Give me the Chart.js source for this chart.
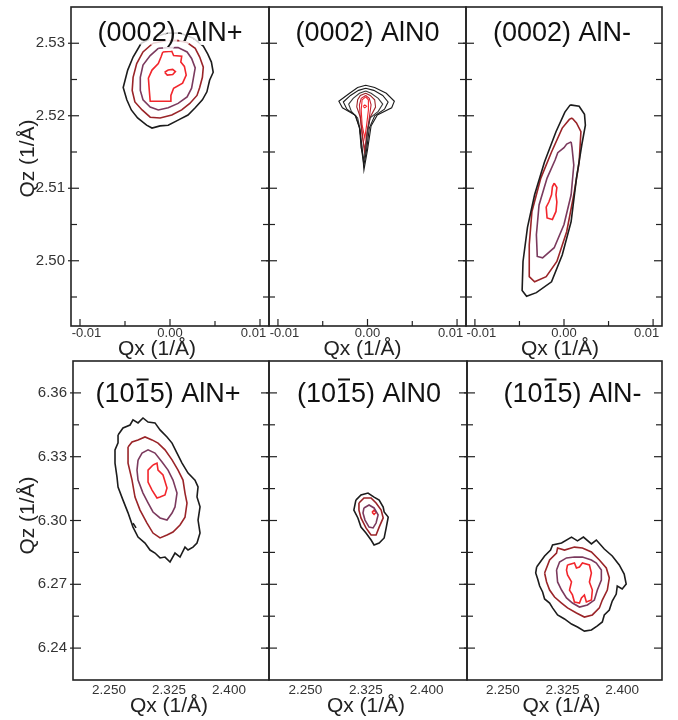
<!DOCTYPE html>
<html>
<head>
<meta charset="utf-8">
<script src="https://cdn.jsdelivr.net/npm/chart.js@4.4.0/dist/chart.umd.min.js"></script>
<style>
html, body { margin: 0; padding: 0; background: #fff; width: 678px; height: 720px; overflow: hidden; }
.panel { position: absolute; }
</style>
</head>
<body>
<script>
// axis ticks
const topXMajor = [-0.01, 0, 0.01]
const topXMinor = [-0.005, 0.005]
const topYMajor = [2.50, 2.51, 2.52, 2.53]
const topYMinor = [2.495, 2.505, 2.515, 2.525]
const botXMajor = [2.250, 2.325, 2.400]
const botYMajor = [6.24, 6.27, 6.30, 6.33, 6.36]
const botYMinor = [6.255, 6.285, 6.315, 6.345]

const titles = ['(0002) AlN+', '(0002) AlN0', '(0002) AlN-', '(1015) AlN+', '(1015) AlN0', '(1015) AlN-']
const xTitle = 'Qx (1/Å)'
const yTitle = 'Qz (1/Å)'

// contour lines, [Qx, Qz] in 1/Å
// (0002) AlN+
const p1Black = [[-0.0032,2.5300],[-0.0041,2.5281],[-0.0047,2.5263],[-0.0052,2.5239],[-0.0048,2.5222],[-0.0043,2.5208],[-0.0036,2.5197],[-0.0026,2.5187],[-0.0020,2.5183],[-0.0011,2.5186],[-0.0002,2.5187],[0.0009,2.5194],[0.0020,2.5201],[0.0028,2.5211],[0.0036,2.5222],[0.0041,2.5233],[0.0044,2.5249],[0.0048,2.5260],[0.0046,2.5274],[0.0042,2.5285],[0.0037,2.5296],[0.0026,2.5307],[0.0011,2.5314],[-0.0003,2.5314],[-0.0019,2.5308]]
const p1DarkRed = [[-0.0019,2.5300],[-0.0030,2.5288],[-0.0037,2.5272],[-0.0041,2.5253],[-0.0042,2.5235],[-0.0039,2.5219],[-0.0031,2.5208],[-0.0022,2.5198],[-0.0011,2.5197],[0.0002,2.5201],[0.0013,2.5208],[0.0022,2.5217],[0.0030,2.5228],[0.0033,2.5239],[0.0036,2.5253],[0.0037,2.5267],[0.0033,2.5281],[0.0028,2.5293],[0.0019,2.5301],[0.0008,2.5304],[-0.0006,2.5303]]
const p1Purple = [[-0.0013,2.5293],[-0.0022,2.5283],[-0.0030,2.5270],[-0.0033,2.5253],[-0.0033,2.5235],[-0.0030,2.5222],[-0.0022,2.5212],[-0.0013,2.5208],[-0.0002,2.5211],[0.0009,2.5217],[0.0019,2.5226],[0.0024,2.5238],[0.0026,2.5252],[0.0028,2.5266],[0.0024,2.5279],[0.0019,2.5288],[0.0009,2.5294],[-0.0002,2.5294]]
const p1Red = [[-0.0008,2.5288],[0.0002,2.5289],[0.0004,2.5283],[0.0013,2.5282],[0.0012,2.5274],[0.0016,2.5268],[0.0018,2.5256],[0.0014,2.5245],[0.0004,2.5238],[0.0001,2.5228],[0.0001,2.5220],[-0.0010,2.5220],[-0.0022,2.5220],[-0.0023,2.5235],[-0.0024,2.5252],[-0.0020,2.5263],[-0.0013,2.5272],[-0.0010,2.5281]]
const p1Peak = [[-0.0006,2.5260],[-0.0002,2.5263],[0.0003,2.5264],[0.0006,2.5261],[0.0003,2.5257],[-0.0003,2.5256]]

// (0002) AlN0
const p2A = [[-0.0002,2.5242],[0.0008,2.5239],[0.0021,2.5231],[0.0030,2.5220],[0.0027,2.5211],[0.0011,2.5201],[0.0004,2.5186],[0.0000,2.5153],[-0.0004,2.5125],[-0.0006,2.5157],[-0.0009,2.5184],[-0.0014,2.5201],[-0.0028,2.5211],[-0.0032,2.5220],[-0.0020,2.5231],[-0.0011,2.5239]]
const p2B = [[-0.0002,2.5238],[0.0007,2.5235],[0.0017,2.5228],[0.0023,2.5219],[0.0019,2.5209],[0.0008,2.5200],[0.0002,2.5183],[-0.0001,2.5153],[-0.0004,2.5132],[-0.0007,2.5156],[-0.0009,2.5183],[-0.0013,2.5200],[-0.0023,2.5209],[-0.0027,2.5219],[-0.0019,2.5228],[-0.0010,2.5235]]
const p2C = [[-0.0002,2.5234],[0.0004,2.5231],[0.0012,2.5224],[0.0017,2.5216],[0.0012,2.5206],[0.0003,2.5197],[0.0000,2.5180],[-0.0002,2.5153],[-0.0004,2.5139],[-0.0007,2.5156],[-0.0008,2.5180],[-0.0011,2.5197],[-0.0018,2.5206],[-0.0021,2.5216],[-0.0016,2.5224],[-0.0009,2.5231]]
const p2D = [[-0.0002,2.5231],[0.0003,2.5228],[0.0008,2.5222],[0.0009,2.5212],[0.0003,2.5198],[0.0000,2.5178],[-0.0003,2.5146],[-0.0006,2.5178],[-0.0008,2.5198],[-0.0012,2.5212],[-0.0011,2.5222],[-0.0008,2.5228]]
const p2E = [[-0.0002,2.5228],[0.0002,2.5224],[0.0004,2.5215],[0.0002,2.5197],[-0.0001,2.5173],[-0.0003,2.5153],[-0.0006,2.5173],[-0.0008,2.5197],[-0.0009,2.5215],[-0.0007,2.5224]]
const p2F = [[-0.0002,2.5226],[0.0001,2.5222],[0.0001,2.5208],[-0.0001,2.5187],[-0.0003,2.5169],[-0.0006,2.5187],[-0.0007,2.5208],[-0.0006,2.5222]]
const p2Peak = [[-0.0005,2.5213],[-0.0003,2.5215],[-0.0001,2.5213],[-0.0003,2.5211]]

// (0002) AlN-
const p3Black = [[0.0007,2.5215],[0.0017,2.5213],[0.0023,2.5202],[0.0024,2.5187],[0.0020,2.5160],[0.0014,2.5114],[0.0008,2.5054],[-0.0002,2.5008],[-0.0014,2.4971],[-0.0031,2.4956],[-0.0042,2.4951],[-0.0047,2.4959],[-0.0046,2.4999],[-0.0041,2.5046],[-0.0033,2.5091],[-0.0022,2.5136],[-0.0009,2.5178],[0.0001,2.5205]]
const p3DarkRed = [[0.0009,2.5197],[0.0014,2.5190],[0.0019,2.5178],[0.0017,2.5136],[0.0011,2.5091],[0.0003,2.5040],[-0.0008,2.4999],[-0.0020,2.4978],[-0.0033,2.4971],[-0.0039,2.4978],[-0.0039,2.5022],[-0.0036,2.5068],[-0.0026,2.5114],[-0.0014,2.5150],[-0.0002,2.5183],[0.0006,2.5195]]
const p3Purple = [[0.0008,2.5164],[0.0009,2.5156],[0.0011,2.5132],[0.0008,2.5091],[0.0000,2.5050],[-0.0011,2.5018],[-0.0024,2.5004],[-0.0030,2.5006],[-0.0031,2.5036],[-0.0028,2.5077],[-0.0019,2.5114],[-0.0010,2.5139],[-0.0007,2.5149],[0.0000,2.5156],[0.0003,2.5161]]
const p3Red = [[-0.0011,2.5107],[-0.0008,2.5101],[-0.0009,2.5091],[-0.0008,2.5081],[-0.0009,2.5068],[-0.0013,2.5057],[-0.0019,2.5059],[-0.0020,2.5074],[-0.0017,2.5081],[-0.0014,2.5091],[-0.0013,2.5102]]

// (10-15) AlN+
const p4Black = [[2.2613,6.3402],[2.2675,6.3435],[2.2763,6.3449],[2.2800,6.3473],[2.2863,6.3459],[2.2925,6.3482],[2.2988,6.3463],[2.3075,6.3459],[2.3138,6.3426],[2.3225,6.3393],[2.3288,6.3364],[2.3350,6.3317],[2.3413,6.3270],[2.3488,6.3223],[2.3575,6.3190],[2.3613,6.3158],[2.3600,6.3111],[2.3638,6.3064],[2.3613,6.3002],[2.3638,6.2941],[2.3600,6.2894],[2.3550,6.2875],[2.3488,6.2861],[2.3450,6.2875],[2.3388,6.2828],[2.3325,6.2847],[2.3263,6.2805],[2.3200,6.2828],[2.3138,6.2824],[2.3075,6.2847],[2.3013,6.2861],[2.2950,6.2894],[2.2863,6.2922],[2.2800,6.2969],[2.2738,6.3036],[2.2675,6.3096],[2.2613,6.3157],[2.2600,6.3204],[2.2575,6.3270],[2.2575,6.3332],[2.2613,6.3365]]
const p4Stray = [[2.2800,6.2988],[2.2838,6.2965]]
const p4DarkRed = [[2.2738,6.3346],[2.2788,6.3369],[2.2863,6.3379],[2.2950,6.3393],[2.3038,6.3379],[2.3113,6.3364],[2.3200,6.3332],[2.3288,6.3285],[2.3363,6.3237],[2.3425,6.3190],[2.3450,6.3129],[2.3475,6.3082],[2.3450,6.3016],[2.3388,6.2979],[2.3300,6.2946],[2.3225,6.2932],[2.3138,6.2918],[2.3050,6.2941],[2.2975,6.2988],[2.2888,6.3049],[2.2825,6.3110],[2.2788,6.3190],[2.2738,6.3270],[2.2738,6.3317]]
const p4Purple = [[2.2863,6.3284],[2.2913,6.3317],[2.2988,6.3332],[2.3075,6.3317],[2.3163,6.3275],[2.3238,6.3237],[2.3300,6.3190],[2.3350,6.3129],[2.3325,6.3064],[2.3288,6.3035],[2.3225,6.3002],[2.3138,6.3012],[2.3050,6.3040],[2.2988,6.3083],[2.2925,6.3129],[2.2863,6.3190],[2.2850,6.3237]]
const p4Red = [[2.3050,6.3261],[2.3100,6.3270],[2.3113,6.3237],[2.3175,6.3214],[2.3225,6.3153],[2.3200,6.3120],[2.3138,6.3111],[2.3100,6.3106],[2.3038,6.3143],[2.2988,6.3181],[2.2988,6.3237]]

// (10-15) AlN0
const p5Black = [[2.3125,6.3096],[2.3188,6.3120],[2.3275,6.3129],[2.3350,6.3110],[2.3413,6.3096],[2.3463,6.3063],[2.3475,6.3040],[2.3525,6.3016],[2.3500,6.2965],[2.3475,6.2918],[2.3413,6.2894],[2.3350,6.2885],[2.3313,6.2908],[2.3250,6.2941],[2.3188,6.2969],[2.3150,6.3012],[2.3100,6.3049]]
const p5DarkRed = [[2.3163,6.3082],[2.3225,6.3106],[2.3313,6.3106],[2.3375,6.3082],[2.3438,6.3049],[2.3463,6.3012],[2.3413,6.2969],[2.3375,6.2932],[2.3313,6.2932],[2.3250,6.2965],[2.3188,6.3012],[2.3163,6.3049]]
const p5Purple = [[2.3225,6.3059],[2.3288,6.3073],[2.3350,6.3059],[2.3400,6.3026],[2.3375,6.2988],[2.3338,6.2965],[2.3288,6.2969],[2.3238,6.3002],[2.3213,6.3035]]
const p5Red = [[2.3325,6.3039],[2.3350,6.3049],[2.3375,6.3039],[2.3350,6.3029]]

// (10-15) AlN-
const p6Black = [[2.2925,6.2781],[2.3025,6.2833],[2.3100,6.2861],[2.3125,6.2885],[2.3238,6.2894],[2.3363,6.2922],[2.3438,6.2904],[2.3513,6.2922],[2.3613,6.2890],[2.3675,6.2908],[2.3775,6.2866],[2.3875,6.2833],[2.3963,6.2791],[2.4025,6.2748],[2.4050,6.2701],[2.4000,6.2678],[2.3938,6.2692],[2.3925,6.2654],[2.3875,6.2621],[2.3838,6.2579],[2.3775,6.2556],[2.3750,6.2523],[2.3688,6.2504],[2.3613,6.2485],[2.3525,6.2480],[2.3438,6.2499],[2.3363,6.2513],[2.3275,6.2537],[2.3188,6.2556],[2.3125,6.2589],[2.3088,6.2612],[2.3025,6.2631],[2.3000,6.2664],[2.2963,6.2692],[2.2938,6.2725],[2.2913,6.2753]]
const p6DarkRed = [[2.3025,6.2753],[2.3088,6.2814],[2.3175,6.2847],[2.3188,6.2871],[2.3275,6.2861],[2.3400,6.2875],[2.3500,6.2871],[2.3613,6.2852],[2.3713,6.2814],[2.3800,6.2777],[2.3838,6.2730],[2.3813,6.2673],[2.3750,6.2626],[2.3713,6.2589],[2.3625,6.2556],[2.3525,6.2546],[2.3425,6.2565],[2.3313,6.2589],[2.3238,6.2612],[2.3150,6.2640],[2.3088,6.2673],[2.3050,6.2711]]
const p6Purple = [[2.3175,6.2767],[2.3213,6.2805],[2.3300,6.2824],[2.3400,6.2828],[2.3500,6.2828],[2.3613,6.2814],[2.3675,6.2800],[2.3738,6.2767],[2.3738,6.2720],[2.3688,6.2673],[2.3650,6.2626],[2.3563,6.2603],[2.3463,6.2593],[2.3375,6.2612],[2.3300,6.2636],[2.3238,6.2673],[2.3188,6.2711]]
const p6Red = [[2.3313,6.2791],[2.3400,6.2800],[2.3425,6.2777],[2.3463,6.2781],[2.3500,6.2800],[2.3588,6.2791],[2.3613,6.2753],[2.3588,6.2711],[2.3625,6.2673],[2.3613,6.2626],[2.3550,6.2617],[2.3525,6.2650],[2.3488,6.2636],[2.3463,6.2612],[2.3400,6.2617],[2.3375,6.2650],[2.3338,6.2673],[2.3363,6.2711],[2.3313,6.2744],[2.3300,6.2767]]

const BLACK = '#1c1c1c', GREY = '#3a3a3a', DARKRED = '#9a2428', PURPLE = '#7b3a5e', RED = '#f2262c', MIDRED = '#c42334'

const panelLines = [
    [[p1Black, BLACK], [p1DarkRed, DARKRED], [p1Purple, PURPLE], [p1Red, RED], [p1Peak, RED]],
    [[p2A, BLACK], [p2B, BLACK], [p2C, GREY], [p2D, DARKRED], [p2E, MIDRED], [p2F, RED], [p2Peak, RED]],
    [[p3Black, BLACK], [p3DarkRed, DARKRED], [p3Purple, PURPLE], [p3Red, RED]],
    [[p4Black, BLACK], [p4Stray, BLACK, true], [p4DarkRed, DARKRED], [p4Purple, PURPLE], [p4Red, RED]],
    [[p5Black, BLACK], [p5DarkRed, DARKRED], [p5Purple, PURPLE], [p5Red, RED]],
    [[p6Black, BLACK], [p6DarkRed, DARKRED], [p6Purple, PURPLE], [p6Red, RED]]
]
const lineWidths = [1.6, 1.1, 1.6, 1.6, 1.6, 1.6]

// page layout: plot frame [left, top, right, bottom]
const frames = [
    [71, 7, 269, 326], [269, 7, 466, 326], [466, 7, 662, 326],
    [73, 361, 269, 680], [269, 361, 467, 680], [467, 361, 662, 680]
]
const titleDx = [0, 0, -2, -3, 1, 8]
const xTitleDx = [-13, -5, -4, -2, -2, -3]

const FONT = "'Liberation Sans', Arial, sans-serif"
Chart.defaults.font.family = FONT

// the end labels of the top row sit slightly inward, as in the figure
const topTickLabel = v => {
    const s = v.toFixed(2)
    if (v < 0) return '\u2002\u2002' + s
    if (v > 0) return s + '\u2002\u2002'
    return s
}

const frameTicks = {
    id: 'frameTicks',
    afterDatasetsDraw(chart, args, o) {
        const { ctx, chartArea: a, scales } = chart
        const sx = scales.x, sy = scales.y
        const seg = (x1, y1, x2, y2) => { ctx.beginPath(); ctx.moveTo(x1, y1); ctx.lineTo(x2, y2); ctx.stroke() }
        ctx.save()
        ctx.strokeStyle = '#222'
        ctx.lineWidth = 1.2
        o.yMajor.forEach(v => { const p = sy.getPixelForValue(v); seg(a.left - 3, p, a.left + 8, p); seg(a.right - 8, p, a.right, p) })
        o.yMinor.forEach(v => { const p = sy.getPixelForValue(v); seg(a.left, p, a.left + 6, p); seg(a.right - 6, p, a.right, p) })
        o.xMajor.forEach(v => { const p = sx.getPixelForValue(v); seg(p, a.bottom, p, a.bottom - o.xLen) })
        o.xMinor.forEach(v => { const p = sx.getPixelForValue(v); seg(p, a.bottom, p, a.bottom - 5) })
        ctx.lineWidth = 1.6
        ctx.strokeRect(a.left, a.top, a.right - a.left, a.bottom - a.top)

        // axis titles
        ctx.fillStyle = '#222'
        ctx.font = '21px ' + FONT
        ctx.textAlign = 'center'
        ctx.textBaseline = 'middle'
        ctx.fillText(xTitle, (a.left + a.right) / 2 + o.xdx, a.bottom + o.xdy)
        if (o.yTitle) {
            ctx.save()
            ctx.translate(28 - (chart.canvas.parentNode.offsetLeft), (a.top + a.bottom) / 2 + o.ydy)
            ctx.rotate(-Math.PI / 2)
            ctx.fillText(yTitle, 0, 0)
            ctx.restore()
        }

        // panel title
        ctx.font = '27px ' + FONT
        ctx.textAlign = 'left'
        ctx.textBaseline = 'alphabetic'
        const w = ctx.measureText(o.title).width
        const tx = (a.left + a.right) / 2 + o.dx - w / 2
        const ty = a.top + o.base
        ctx.lineJoin = 'round'
        ctx.lineWidth = 8
        ctx.strokeStyle = 'rgba(255,255,255,0.8)'
        ctx.strokeText(o.title, tx, ty)
        ctx.fillStyle = '#111'
        ctx.fillText(o.title, tx, ty)
        if (o.bar) {
            const w0 = ctx.measureText(o.title.slice(0, 3)).width
            const w1 = ctx.measureText(o.title.slice(0, 4)).width
            ctx.strokeStyle = '#111'
            ctx.lineWidth = 2
            seg(tx + w0 + 2, ty - 22.5, tx + w1 - 1, ty - 22.5)
        }
        ctx.restore()
    }
}

frames.forEach((f, i) => {
    const row = i < 3 ? 0 : 1
    const isLeft = i % 3 === 0
    const [left, top, right, bottom] = f
    const padL = 60, padR = 12, padT = 7
    const padB = row === 0 ? 36 : 39
    const W = padL + (right - left) + padR
    const H = padT + (bottom - top) + padB

    const div = document.createElement('div')
    div.className = 'panel'
    div.style.left = (left - padL) + 'px'
    div.style.top = (top - padT) + 'px'
    const canvas = document.createElement('canvas')
    canvas.width = W
    canvas.height = H
    canvas.style.width = W + 'px'
    canvas.style.height = H + 'px'
    div.appendChild(canvas)
    document.body.appendChild(div)

    const xMajor = row === 0 ? topXMajor : botXMajor
    const yMajor = row === 0 ? topYMajor : botYMajor

    const datasets = panelLines[i].map(([pts, color, open]) => {
        const line = open ? pts : pts.concat([pts[0]])
        return {
            data: line.map(([x, y]) => ({ x, y })),
            showLine: true,
            borderColor: color,
            borderWidth: lineWidths[i],
            pointRadius: 0,
            fill: false,
            tension: 0
        }
    })

    new Chart(canvas, {
        type: 'scatter',
        data: { datasets },
        options: {
            responsive: false,
            animation: false,
            events: [],
            layout: { padding: { top: padT, right: padR, left: 0, bottom: 0 } },
            plugins: {
                legend: { display: false },
                tooltip: { enabled: false },
                frameTicks: {
                    title: titles[i],
                    dx: titleDx[i],
                    base: row === 0 ? 34 : 41,
                    bar: row === 1,
                    xdx: xTitleDx[i],
                    xdy: row === 0 ? 23 : 26,
                    yTitle: isLeft,
                    ydy: row === 0 ? -8 : -5,
                    yMajor,
                    yMinor: row === 0 ? topYMinor : botYMinor,
                    xMajor,
                    xMinor: row === 0 ? topXMinor : [],
                    xLen: row === 0 ? 7 : 0
                }
            },
            scales: {
                x: {
                    type: 'linear',
                    min: row === 0 ? -0.011 : 2.205,
                    max: row === 0 ? 0.011 : 2.450,
                    afterBuildTicks: s => { s.ticks = xMajor.map(v => ({ value: v })) },
                    afterFit: s => { s.height = padB; s.paddingLeft = 0; s.paddingRight = 0 },
                    grid: { display: false, drawTicks: false },
                    border: { display: false },
                    ticks: {
                        autoSkip: false,
                        maxRotation: 0,
                        padding: row === 0 ? 0 : 2,
                        color: '#333',
                        font: { size: row === 0 ? 13 : 13.5 },
                        callback: v => row === 0 ? topTickLabel(v) : v.toFixed(3)
                    }
                },
                y: {
                    type: 'linear',
                    min: row === 0 ? 2.491 : 6.225,
                    max: row === 0 ? 2.535 : 6.375,
                    afterBuildTicks: s => { s.ticks = yMajor.map(v => ({ value: v })) },
                    afterFit: s => { s.width = padL; s.paddingTop = 0; s.paddingBottom = 0 },
                    grid: { display: false, drawTicks: false },
                    border: { display: false },
                    ticks: {
                        display: isLeft,
                        padding: 6,
                        color: '#333',
                        font: { size: 15 },
                        callback: v => v.toFixed(2)
                    }
                }
            }
        },
        plugins: [frameTicks]
    })
})
</script>
</body>
</html>
